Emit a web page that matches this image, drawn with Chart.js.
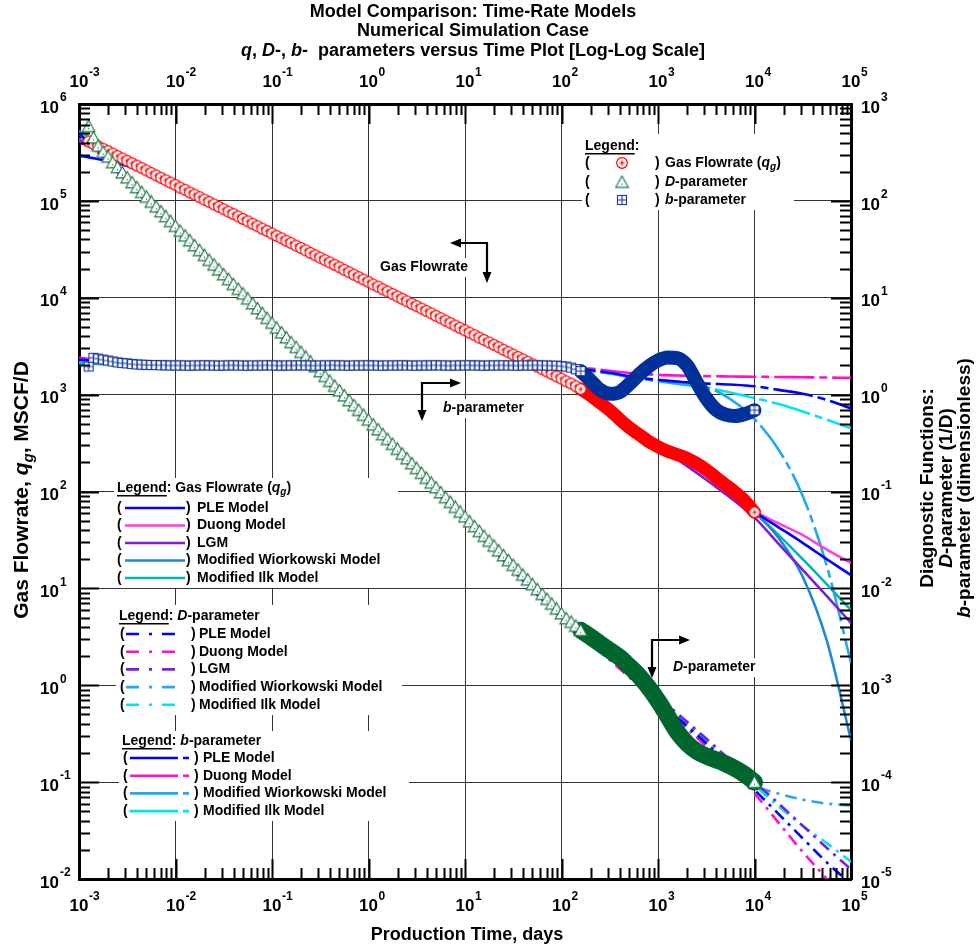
<!DOCTYPE html>
<html><head><meta charset="utf-8">
<script src="https://cdn.jsdelivr.net/npm/chart.js@4/dist/chart.umd.min.js"></script>
<style>html,body{margin:0;padding:0;background:#fff}#wrap{width:980px;height:951px;position:relative}</style>
</head><body><div id="wrap"><canvas id="c"></canvas></div>
<script>
// ---------------- DATA ----------------
// measured points, early (log-spaced) part
const tEarly = [0.00126,0.00141,0.00158,0.00178,0.002,0.00224,0.00251,0.00282,0.00316,0.00355,0.00398,0.00447,0.00501,0.00562,0.00631,0.00708,0.00794,0.00891,
 0.01,0.0112,0.0126,0.0141,0.0158,0.0178,0.02,0.0224,0.0251,0.0282,0.0316,0.0355,0.0398,0.0447,0.0501,0.0562,0.0631,0.0708,0.0794,0.0891,
 0.1,0.112,0.126,0.141,0.158,0.178,0.2,0.224,0.251,0.282,0.316,0.355,0.398,0.447,0.501,0.562,0.631,0.708,0.794,0.891,
 1,1.12,1.26,1.41,1.58,1.78,2,2.24,2.51,2.82,3.16,3.55,3.98,4.47,5.01,5.62,6.31,7.08,7.94,8.91,
 10,11.2,12.6,14.1,15.8,17.8,20,22.4,25.1,28.2,31.6,35.5,39.8,44.7,50.1,56.2,63.1,70.8,79.4,89.1,
 100,112,126,141,158];
const qEarly = [410000,387000,366000,345000,326000,308000,290000,274000,259000,244000,231000,218000,206000,194000,183000,173000,163000,154000,
 146000,137000,130000,122000,116000,109000,103000,97300,91800,86700,81900,77300,73000,68900,65000,61400,57900,54700,51600,48800,
 46000,43500,41000,38700,36600,34500,32600,30800,29000,27400,25900,24400,23100,21800,20600,19400,18300,17300,16300,15400,
 14600,13700,13000,12200,11600,10900,10300,9730,9180,8670,8190,7730,7300,6890,6500,6140,5790,5470,5160,4880,
 4600,4350,4100,3870,3660,3450,3260,3080,2900,2740,2590,2440,2310,2180,2060,1940,1830,1730,1630,1540,
 1460,1370,1300,1220,1140];
const dEarly = [590,450,370,320,285,250,222,196,174,155,138,123,110,97.7,87.1,77.6,69.2,61.7,
 55.0,49.0,43.7,38.9,34.7,30.9,27.5,24.5,21.9,19.5,17.4,15.5,13.8,12.3,11.0,9.77,8.71,7.76,6.92,6.17,
 5.50,4.90,4.37,3.89,3.47,3.09,2.75,2.45,2.19,1.95,1.74,1.55,1.38,1.23,1.10,0.977,0.871,0.776,0.692,0.617,
 0.550,0.490,0.437,0.389,0.347,0.309,0.275,0.245,0.219,0.195,0.174,0.155,0.138,0.123,0.110,0.0977,0.0871,0.0776,0.0692,0.0617,
 0.0550,0.0490,0.0437,0.0389,0.0347,0.0309,0.0275,0.0245,0.0219,0.0195,0.0174,0.0155,0.0138,0.0123,0.0110,0.00977,0.00871,0.00776,0.00692,0.00617,
 0.00550,0.00490,0.0045,0.0041,0.0037];
const bEarly = [1.95,2.4,2.35,2.3,2.25,2.2,2.15,2.12,2.1,2.07,
 2.05,2.04,2.03,2.02,2.02,2.01,2.01,2.0,2.0,2.0,
 2.0,1.99,2.0,2.0,2.01,2.0,2.0,1.99,2.0,2.0,
 2.01,2.0,2.0,1.99,2.0,2.0,2.0,2.01,2.0,2.0,
 1.99,2.0,2.0,2.0,2.01,2.0,2.0,1.99,2.0,2.0,
 2.0,2.01,2.0,2.0,1.99,2.0,2.0,2.0,2.01,2.0,
 2.0,1.99,2.0,2.0,2.0,2.01,2.0,2.0,1.99,2.0,
 2.0,2.0,2.01,2.0,2.0,1.99,2.0,2.0,2.0,2.01,
 2.0,2.0,1.99,2.0,2.0,2.0,2.01,2.0,2.0,1.99,
 2.0,2.0,2.0,2.01,2.0,2.0,1.99,1.99,1.97,1.95,
 1.9,1.83,1.75];
// measured points, late (dense, daily) part
const tLate = [158,200,251,316,398,501,631,794,1000,1260,1580,2000,2510,3160,3980,5010,6310,7940,10000];
const qLate = [1140,980,820,690,560,460,390,330,290,260,240,220,195,168,140,117,98,80,61];
const dLate = [0.0037,0.00316,0.00269,0.00229,0.00195,0.00158,0.00126,0.000955,0.000692,0.000479,
 0.000331,0.000251,0.000209,0.000186,0.00017,0.000155,0.000138,0.00012,0.0001];
const bLate = [1.75,1.4,1.12,1.02,1.06,1.28,1.6,1.95,2.25,2.42,2.38,2.0,1.35,0.92,0.7,0.62,0.6,0.63,0.69];

// model curves: gas rate and D-parameter
const tModel = [0.001,0.00316,0.01,0.1,1,10,100,316,1000,3160,10000,17800,31600,56200,100000];
const qPLE   = [295000,229000,141000,46000,14600,4600,1460,708,316,155,61.7,42.7,29.5,20,13.7];
const qDuong = [398000,263000,146000,46000,14600,4600,1460,708,324,158,63,46.8,35.5,25.1,18.2];
const qLGM   = [417000,260000,146000,46000,14600,4600,1410,676,295,132,53.7,28.8,15.5,8.3,4.4];
const qWiork = [437000,263000,146000,46000,14600,4600,1460,708,316,155,61.7,33.1,13.2,2.88,0.27];
const qIlk   = [525000,269000,146000,46000,14600,4600,1460,708,316,155,60.3,35.5,20,11,5.97];
const dPLE   = [501,158,50.1,5.01,0.501,0.0501,0.00501,0.00191,0.000692,0.000251,8.3e-5,4.68e-5,2.63e-5,1.48e-5,8.9e-6];
const dDuong = [501,158,50.1,5.01,0.501,0.0501,0.00501,0.00182,0.000661,0.000234,7.6e-5,3.8e-5,1.9e-5,1.0e-5,5.0e-6];
const dLGM   = [501,158,50.1,5.01,0.501,0.0501,0.00501,0.002,0.000759,0.000282,1.0e-4,6.0e-5,3.55e-5,2.09e-5,1.26e-5];
const dWiork = [501,158,50.1,5.01,0.501,0.0501,0.00501,0.002,0.000708,0.000269,9.3e-5,7.6e-5,6.6e-5,6.0e-5,5.75e-5];
const dIlk   = [501,158,50.1,5.01,0.501,0.0501,0.00501,0.00195,0.000708,0.000263,9.3e-5,5.6e-5,3.55e-5,2.34e-5,1.51e-5];
// model curves: b-parameter
const tbModel = [0.001,0.00316,0.01,0.1,1,10,100,178,316,562,1000,1780,3160,5620,10000,17800,31600,56200,100000];
const bPLE   = [2.3,2.08,2.02,2.0,2.0,2.0,1.95,1.82,1.68,1.52,1.42,1.35,1.3,1.27,1.22,1.12,1.02,0.88,0.72];
const bDuong = [2.4,2.1,2.03,2.0,2.0,2.0,1.97,1.88,1.76,1.66,1.6,1.57,1.55,1.54,1.53,1.52,1.51,1.5,1.49];
const bWiork = [2.1,2.04,2.01,2.0,2.0,2.0,1.95,1.8,1.65,1.5,1.38,1.28,1.2,0.9,0.56,0.27,0.09,0.017,0.0017];
const bIlk   = [2.15,2.05,2.01,2.0,2.0,2.0,1.95,1.8,1.65,1.5,1.38,1.27,1.18,1.05,0.92,0.8,0.67,0.55,0.45];

const xDecades = [-3,-2,-1,0,1,2,3,4,5];
const yLeftDecades = [-2,-1,0,1,2,3,4,5,6];
const yRightDecades = [-5,-4,-3,-2,-1,0,1,2,3];
const gasNames = ['PLE Model','Duong Model','LGM','Modified Wiorkowski Model','Modified Ilk Model'];
const dNames = ['PLE Model','Duong Model','LGM','Modified Wiorkowski Model','Modified Ilk Model'];
const bNames = ['PLE Model','Duong Model','Modified Wiorkowski Model','Modified Ilk Model'];

// ---------------- STYLE ----------------
const C = {
  ple:'#0000ff', duongG:'#ff40d8', duong:'#ff10cc', lgm:'#7a1fe0',
  wiorkG:'#1a8ad4', wiork:'#22aaf0', ilkG:'#00b8b8', ilk:'#00e4f4',
  red:'#ff0000', green:'#1f7a45', greenBand:'#00662e', blue:'#1a3a9a', blueBand:'#00309a'
};
const DASH_D = [12,6,3,6];
const DASH_B = [40,5,8,5];
const FF = '"Liberation Sans", Arial, Helvetica, sans-serif';
const fnt = (s, it) => (it ? 'italic ' : '') + 'bold ' + s + 'px ' + FF;

function mkCircle(){const c=document.createElement('canvas');c.width=c.height=14;const g=c.getContext('2d');
 g.fillStyle='#fff';g.beginPath();g.arc(7,7,5.3,0,Math.PI*2);g.fill();g.strokeStyle=C.red;g.lineWidth=1.2;g.stroke();
 g.beginPath();g.moveTo(4.6,7);g.lineTo(9.4,7);g.moveTo(7,4.6);g.lineTo(7,9.4);g.stroke();return c;}
function mkTri(){const c=document.createElement('canvas');c.width=c.height=15;const g=c.getContext('2d');
 g.fillStyle='#fff';g.strokeStyle=C.green;g.lineWidth=1.2;g.beginPath();g.moveTo(7.5,1.5);g.lineTo(13.8,12.8);g.lineTo(1.2,12.8);g.closePath();g.fill();g.stroke();
 g.fillStyle=C.green;g.fillRect(7,9,1,1.5);return c;}
function mkSq(){const c=document.createElement('canvas');c.width=c.height=12;const g=c.getContext('2d');
 g.fillStyle='#fff';g.fillRect(1,1,10,10);g.strokeStyle=C.blue;g.lineWidth=1.1;g.strokeRect(1.5,1.5,9,9);
 g.beginPath();g.moveTo(6,1.5);g.lineTo(6,10.5);g.moveTo(1.5,6);g.lineTo(10.5,6);g.stroke();return c;}
const imgCircle=mkCircle(), imgTri=mkTri(), imgSq=mkSq();

const pts = (xs, ys) => xs.map((x,i)=>({x, y: ys[i]}));
const last = a => a[a.length-1];

function modelLine(label, xs, ys, color, axis, dash){
  return {label, data: pts(xs,ys), yAxisID: axis, borderColor: color, borderWidth: 2.6,
    borderDash: dash || [], pointRadius: 0, showLine: true, fill: false,
    cubicInterpolationMode: 'monotone', order: 20, clip: 0};
}
function band(label, xs, ys, color, axis, w, order){
  return {label, data: pts(xs,ys), yAxisID: axis, borderColor: color, borderWidth: w,
    borderCapStyle:'round', borderJoinStyle:'round', pointRadius: 0, showLine: true, fill:false,
    cubicInterpolationMode:'monotone', order, clip: 0};
}
function markers(label, xs, ys, lx, ly, img, axis, order){
  return {label, data: pts(xs,ys).concat([{x:lx, y:ly}]), yAxisID: axis, showLine:false,
    pointStyle: img, pointRadius: 6, pointHoverRadius: 6, order, clip: 0};
}

const datasets = [
  modelLine('q PLE', tModel, qPLE, C.ple, 'y'),
  modelLine('q Duong', tModel, qDuong, C.duongG, 'y'),
  modelLine('q LGM', tModel, qLGM, C.lgm, 'y'),
  modelLine('q Wiorkowski', tModel, qWiork, C.wiorkG, 'y'),
  modelLine('q Ilk', tModel, qIlk, C.ilkG, 'y'),
  modelLine('D PLE', tModel, dPLE, C.ple, 'y2', DASH_D),
  modelLine('D Duong', tModel, dDuong, C.duong, 'y2', DASH_D),
  modelLine('D LGM', tModel, dLGM, C.lgm, 'y2', DASH_D),
  modelLine('D Wiorkowski', tModel, dWiork, C.wiork, 'y2', DASH_D),
  modelLine('D Ilk', tModel, dIlk, C.ilk, 'y2', DASH_D),
  modelLine('b PLE', tbModel, bPLE, C.ple, 'y2', DASH_B),
  modelLine('b Duong', tbModel, bDuong, C.duong, 'y2', DASH_B),
  modelLine('b Wiorkowski', tbModel, bWiork, C.wiork, 'y2', DASH_B),
  modelLine('b Ilk', tbModel, bIlk, C.ilk, 'y2', DASH_B),
  band('q band', tLate, qLate, C.red, 'y', 13, 8),
  band('D band', tLate, dLate, C.greenBand, 'y2', 17, 7),
  band('b band', tLate, bLate, C.blueBand, 'y2', 14, 6),
  markers('Gas Flowrate', tEarly, qEarly, last(tLate), last(qLate), imgCircle, 'y', 3),
  markers('D-parameter', tEarly, dEarly, last(tLate), last(dLate), imgTri, 'y2', 2),
  markers('b-parameter', tEarly, bEarly, last(tLate), last(bLate), imgSq, 'y2', 1),
];

const isDecade = v => Math.abs(Math.log10(v) - Math.round(Math.log10(v))) < 1e-6;
const gridColor = ctx => (ctx.tick && isDecade(ctx.tick.value)) ? '#333' : 'rgba(0,0,0,0)';
const BORDER = {display:true, color:'#000', width:3};

// ---------------- DRAWING HELPERS ----------------
function rich(ctx, x, y, parts, size, align){
  const segs = parts.map(p => {
    const t = p[0], s = p[1] || '';
    const fz = s === 'sub' ? Math.round(size*0.72) : size;
    ctx.font = fnt(fz, s === 'i' || s === 'sub');
    return {t, s, fz, w: ctx.measureText(t).width};
  });
  const W = segs.reduce((a,g)=>a+g.w, 0);
  let cx = align === 'center' ? x - W/2 : (align === 'right' ? x - W : x);
  ctx.textAlign = 'left'; ctx.textBaseline = 'middle';
  for (const g of segs){
    ctx.font = fnt(g.fz, g.s === 'i' || g.s === 'sub');
    ctx.fillText(g.t, cx, g.s === 'sub' ? y + size*0.32 : y);
    cx += g.w;
  }
  return W;
}
function underlinedLegend(ctx, x, y, rest, size){
  ctx.font = fnt(size); ctx.textAlign='left'; ctx.textBaseline='middle'; ctx.fillStyle='#000';
  ctx.fillText('Legend', x, y);
  const w = ctx.measureText('Legend').width;
  ctx.fillRect(x, y + size*0.5, w, 1.5);
  rich(ctx, x + w, y, rest, size, 'left');
}
function arrowHead(ctx, x, y, dir){
  const L = 11, H = 4.5;
  ctx.beginPath();
  if (dir==='left'){ctx.moveTo(x,y);ctx.lineTo(x+L,y-H);ctx.lineTo(x+L,y+H);}
  if (dir==='right'){ctx.moveTo(x,y);ctx.lineTo(x-L,y-H);ctx.lineTo(x-L,y+H);}
  if (dir==='down'){ctx.moveTo(x,y);ctx.lineTo(x-H,y-L);ctx.lineTo(x+H,y-L);}
  ctx.closePath(); ctx.fill();
}
function pow10Label(ctx, x, y, e, mode){
  const base = 17, es = 12;
  ctx.fillStyle = '#000'; ctx.textBaseline='middle'; ctx.textAlign='left';
  ctx.font = fnt(base); const wb = ctx.measureText('10').width;
  let bx, by, ex, ey;
  if (mode === 'bottom' || mode === 'top'){ bx = x - wb/2; by = y; ex = bx + wb + 0.5; ey = y - 9; }
  else if (mode === 'left'){ bx = 59 - wb; by = y + 4; ex = 60; ey = y - 6; }
  else { bx = 861; by = y + 4; ex = 861 + wb + 1; ey = y - 6; }
  ctx.font = fnt(base); ctx.fillText('10', bx, by);
  ctx.font = fnt(es); ctx.fillText(String(e), ex, ey);
}

const decor = {
  id: 'decor',
  afterDraw(chart){
    const ctx = chart.ctx, a = chart.chartArea;
    const sx = chart.scales.x, sy = chart.scales.y, sy2 = chart.scales.y2;
    ctx.save();
    // inward tick marks on four sides
    ctx.strokeStyle = '#000'; ctx.lineWidth = 2;
    ctx.beginPath();
    for (let d = -3; d < 5; d++) for (let k = 1; k <= 9; k++){
      if (d === -3 && k === 1) continue;
      const px = Math.round(sx.getPixelForValue(k*Math.pow(10,d))) + 0.5;
      const L = k === 1 ? 20 : 11;
      ctx.moveTo(px, a.bottom); ctx.lineTo(px, a.bottom - L);
      ctx.moveTo(px, a.top); ctx.lineTo(px, a.top + L);
    }
    for (let d = -2; d < 6; d++) for (let k = 1; k <= 9; k++){
      if (d === -2 && k === 1) continue;
      const py = Math.round(sy.getPixelForValue(k*Math.pow(10,d))) + 0.5;
      const L = k === 1 ? 20 : 11;
      ctx.moveTo(a.left, py); ctx.lineTo(a.left + L, py);
    }
    for (let d = -5; d < 3; d++) for (let k = 1; k <= 9; k++){
      if (d === -5 && k === 1) continue;
      const py = Math.round(sy2.getPixelForValue(k*Math.pow(10,d))) + 0.5;
      const L = k === 1 ? 20 : 11;
      ctx.moveTo(a.right, py); ctx.lineTo(a.right - L, py);
    }
    ctx.stroke();

    // tick labels
    for (const e of xDecades){
      const px = sx.getPixelForValue(Math.pow(10,e));
      pow10Label(ctx, px, 906, e, 'bottom');
      pow10Label(ctx, px, 82, e, 'top');
    }
    for (const e of yLeftDecades) pow10Label(ctx, 0, sy.getPixelForValue(Math.pow(10,e)), e, 'left');
    for (const e of yRightDecades) pow10Label(ctx, 0, sy2.getPixelForValue(Math.pow(10,e)), e, 'right');

    // titles
    ctx.fillStyle = '#000';
    ctx.font = fnt(18); ctx.textAlign='center'; ctx.textBaseline='middle';
    ctx.fillText('Model Comparison: Time-Rate Models', 473, 12);
    ctx.fillText('Numerical Simulation Case', 473, 31);
    rich(ctx, 473, 51, [['q','i'],[', '],['D','i'],['-, '],['b','i'],['-  parameters versus Time Plot [Log-Log Scale]']], 18, 'center');
    ctx.font = fnt(18); ctx.textAlign='center';
    ctx.fillText('Production Time, days', 467, 935);

    // left axis title (rotated)
    ctx.save(); ctx.translate(22, 490); ctx.rotate(-Math.PI/2);
    rich(ctx, 0, 0, [['Gas Flowrate, '],['q','i'],['g','sub'],[', MSCF/D']], 21, 'center');
    ctx.restore();
    // right axis title (rotated, three lines)
    ctx.save(); ctx.translate(928, 488); ctx.rotate(-Math.PI/2);
    rich(ctx, 0, 0, [['Diagnostic Functions:']], 19, 'center');
    rich(ctx, 0, 18.5, [['D','i'],['-parameter (1/D)']], 19, 'center');
    rich(ctx, 0, 37, [['b','i'],['-parameter (dimensionless)']], 19, 'center');
    ctx.restore();

    // --- top-right legend ---
    ctx.fillStyle = '#fff'; ctx.fillRect(582, 134, 212, 76);
    underlinedLegend(ctx, 585, 146, [[':']], 14);
    const rowsTR = [[163, imgCircle, [['Gas Flowrate ('],['q','i'],['g','sub'],[')']]],
                    [182, imgTri, [['D','i'],['-parameter']]],
                    [200, imgSq, [['b','i'],['-parameter']]]];
    for (const [y, img, parts] of rowsTR){
      ctx.fillStyle='#000'; ctx.font = fnt(14); ctx.textAlign='left'; ctx.textBaseline='middle';
      ctx.fillText('(', 585, y); ctx.fillText(')', 655, y);
      ctx.drawImage(img, 622 - img.width/2, y - img.height/2);
      ctx.fillStyle='#000'; rich(ctx, 665, y, parts, 14, 'left');
    }

    // --- gas model legend ---
    ctx.fillStyle = '#fff'; ctx.fillRect(114, 478, 284, 110);
    underlinedLegend(ctx, 117, 488, [[': Gas Flowrate ('],['q','i'],['g','sub'],[')']], 14);
    const gasCols = [C.ple, C.duongG, C.lgm, C.wiorkG, C.ilkG];
    gasNames.forEach((n, i) => {
      const y = 508 + i*17.5;
      ctx.fillStyle='#000'; ctx.font=fnt(14); ctx.textAlign='left'; ctx.textBaseline='middle';
      ctx.fillText('(', 117, y); ctx.fillText(')', 186, y); ctx.fillText(n, 197, y);
      ctx.strokeStyle = gasCols[i]; ctx.lineWidth = 2.6; ctx.setLineDash([]);
      ctx.beginPath(); ctx.moveTo(125, y); ctx.lineTo(185, y); ctx.stroke();
    });
    // --- D legend ---
    ctx.fillStyle = '#fff'; ctx.fillRect(116, 605, 286, 110);
    underlinedLegend(ctx, 119, 616, [[': '],['D','i'],['-parameter']], 14);
    const dCols = [C.ple, C.duong, C.lgm, C.wiork, C.ilk];
    dNames.forEach((n, i) => {
      const y = 634 + i*17.7;
      ctx.fillStyle='#000'; ctx.font=fnt(14); ctx.textAlign='left'; ctx.textBaseline='middle';
      ctx.fillText('(', 120, y); ctx.fillText(')', 191, y); ctx.fillText(n, 199, y);
      ctx.strokeStyle = dCols[i]; ctx.lineWidth = 2.6; ctx.setLineDash([13,10,3,10]);
      ctx.beginPath(); ctx.moveTo(126, y); ctx.lineTo(178, y); ctx.stroke();
    });
    ctx.setLineDash([]);
    // --- b legend ---
    ctx.fillStyle = '#fff'; ctx.fillRect(119, 731, 290, 90);
    underlinedLegend(ctx, 122, 741, [[': '],['b','i'],['-parameter']], 14);
    const bCols = [C.ple, C.duong, C.wiork, C.ilk];
    bNames.forEach((n, i) => {
      const y = 758 + i*17.7;
      ctx.fillStyle='#000'; ctx.font=fnt(14); ctx.textAlign='left'; ctx.textBaseline='middle';
      ctx.fillText('(', 123, y); ctx.fillText(')', 194, y); ctx.fillText(n, 203, y);
      ctx.strokeStyle = bCols[i]; ctx.lineWidth = 2.6; ctx.setLineDash([48,5,6,100]);
      ctx.beginPath(); ctx.moveTo(130, y); ctx.lineTo(189, y); ctx.stroke();
    });
    ctx.setLineDash([]);

    // --- annotations ---
    ctx.fillStyle='#fff'; ctx.fillRect(378, 258, 100, 19);
    ctx.fillStyle='#000'; ctx.font=fnt(14); ctx.textAlign='left'; ctx.textBaseline='middle';
    ctx.fillText('Gas Flowrate', 380, 267);
    ctx.strokeStyle='#000'; ctx.lineWidth=2.2;
    ctx.beginPath(); ctx.moveTo(460, 243); ctx.lineTo(487, 243); ctx.lineTo(487, 272); ctx.stroke();
    arrowHead(ctx, 450, 243, 'left'); arrowHead(ctx, 487, 283, 'down');

    ctx.fillStyle='#fff'; ctx.fillRect(441, 399, 116, 19);
    ctx.fillStyle='#000'; rich(ctx, 443, 408, [['b','i'],['-parameter']], 14, 'left');
    ctx.beginPath(); ctx.moveTo(422, 410); ctx.lineTo(422, 383); ctx.lineTo(450, 383); ctx.stroke();
    arrowHead(ctx, 461, 383, 'right'); arrowHead(ctx, 422, 421, 'down');

    ctx.fillStyle='#fff'; ctx.fillRect(671, 658, 96, 19);
    ctx.fillStyle='#000'; rich(ctx, 673, 667, [['D','i'],['-parameter']], 14, 'left');
    ctx.beginPath(); ctx.moveTo(652, 667); ctx.lineTo(652, 640); ctx.lineTo(679, 640); ctx.stroke();
    arrowHead(ctx, 690, 640, 'right'); arrowHead(ctx, 652, 678, 'down');

    ctx.restore();
  }
};

new Chart(document.getElementById('c'), {
  type: 'line',
  data: { datasets },
  options: {
    responsive: true, maintainAspectRatio: false, animation: false,
    layout: { padding: 0 },
    plugins: { legend: {display:false}, title: {display:false}, tooltip: {enabled:false} },
    events: [],
    scales: {
      x: { type:'logarithmic', position:'bottom', min:1e-3, max:1e5,
           ticks:{display:false}, grid:{color: gridColor, lineWidth:1, drawTicks:false}, border: BORDER,
           afterFit: s => { s.height = 72; } },
      x2: { type:'logarithmic', position:'top', min:1e-3, max:1e5,
           ticks:{display:false}, grid:{display:false, drawTicks:false}, border: BORDER,
           afterFit: s => { s.height = 104; } },
      y: { type:'logarithmic', position:'left', min:1e-2, max:1e6,
           ticks:{display:false}, grid:{color: gridColor, lineWidth:1, drawTicks:false}, border: BORDER,
           afterFit: s => { s.width = 79; } },
      y2: { type:'logarithmic', position:'right', min:1e-5, max:1e3,
           ticks:{display:false}, grid:{display:false, drawTicks:false}, border: BORDER,
           afterFit: s => { s.width = 129; } }
    }
  },
  plugins: [decor]
});
</script>
</body></html>
